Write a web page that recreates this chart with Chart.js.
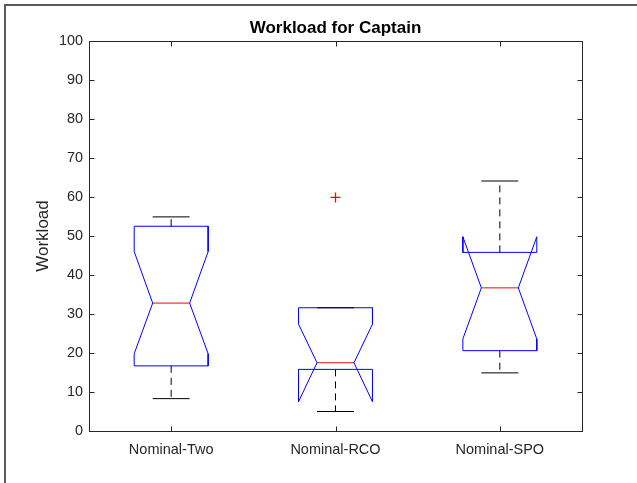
<!DOCTYPE html>
<html lang="en">
<head>
<meta charset="utf-8">
<script src="https://cdn.jsdelivr.net/npm/chart.js"></script>
<style>
    body { margin: 0; background: #fff; overflow: hidden; }
    #chart { position: absolute; left: 0; top: 0; }
</style>
</head>
<body>
<canvas id="chart" width="637" height="483"></canvas>

<script>
    // Box statistics
    const categories = ['Nominal-Two', 'Nominal-RCO', 'Nominal-SPO'];
    const whiskerLow = [8.3, 5.0, 14.9];
    const q1 = [16.7, 15.8, 20.6];
    const notchLow = [19.8, 7.5, 23.6];
    const median = [32.8, 17.5, 36.7];
    const notchHigh = [46.0, 27.4, 49.8];
    const q3 = [52.5, 31.6, 45.8];
    const whiskerHigh = [54.9, 31.6, 64.1];
    const outliers = [[], [59.9], []];
    const yTicks = [0, 10, 20, 30, 40, 50, 60, 70, 80, 90, 100];

    const boxHalf = 0.225;
    const notchHalf = boxHalf / 2;
    const fontFamily = "'Liberation Sans', Arial, Helvetica, sans-serif";
    const axisColor = '#262626';

    const datasets = [];
    categories.forEach(function (name, i) {
        const c = i + 1;
        // whiskers (dashed)
        datasets.push({ data: [{x: c, y: q3[i]}, {x: c, y: whiskerHigh[i]}], borderColor: '#000', borderDash: [7, 5] });
        datasets.push({ data: [{x: c, y: q1[i]}, {x: c, y: whiskerLow[i]}], borderColor: '#000', borderDash: [7, 5] });
        // caps
        datasets.push({ data: [{x: c - notchHalf, y: whiskerHigh[i]}, {x: c + notchHalf, y: whiskerHigh[i]}], borderColor: '#000' });
        datasets.push({ data: [{x: c - notchHalf, y: whiskerLow[i]}, {x: c + notchHalf, y: whiskerLow[i]}], borderColor: '#000' });
        // notched box outline
        datasets.push({
            data: [
                {x: c - boxHalf, y: q1[i]},
                {x: c - boxHalf, y: notchLow[i]},
                {x: c - notchHalf, y: median[i]},
                {x: c - boxHalf, y: notchHigh[i]},
                {x: c - boxHalf, y: q3[i]},
                {x: c + boxHalf, y: q3[i]},
                {x: c + boxHalf, y: notchHigh[i]},
                {x: c + notchHalf, y: median[i]},
                {x: c + boxHalf, y: notchLow[i]},
                {x: c + boxHalf, y: q1[i]},
                {x: c - boxHalf, y: q1[i]}
            ],
            borderColor: '#0000ff'
        });
        // median
        datasets.push({ data: [{x: c - notchHalf, y: median[i]}, {x: c + notchHalf, y: median[i]}], borderColor: '#ff0000' });
        // outliers
        if (outliers[i].length) {
            datasets.push({
                type: 'line',
                data: outliers[i].map(function (v) { return {x: c, y: v}; }),
                showLine: false,
                pointStyle: 'cross',
                pointRadius: 5,
                borderColor: 'rgb(255,0,0)',
                backgroundColor: 'rgb(255,0,0)',
                pointBorderColor: 'rgb(255,0,0)',
                pointBackgroundColor: 'rgb(255,0,0)',
                pointBorderWidth: 1.3
            });
        }
    });
    datasets.forEach(function (d) {
        if (d.showLine === undefined) { d.showLine = true; d.pointRadius = 0; }
        d.borderWidth = 1;
        d.fill = false;
        d.tension = 0;
    });

    // figure edge + axes box with inward ticks
    const boxFrame = {
        id: 'boxFrame',
        beforeDraw: function (chart) {
            const ctx = chart.ctx;
            ctx.save();
            ctx.strokeStyle = '#5a5a5a';
            ctx.lineWidth = 2;
            ctx.beginPath();
            ctx.moveTo(5, chart.height);
            ctx.lineTo(5, 5);
            ctx.lineTo(chart.width, 5);
            ctx.stroke();
            ctx.restore();
        },
        afterDatasetsDraw: function (chart) {
            const ctx = chart.ctx, a = chart.chartArea;
            const xs = chart.scales.x, ys = chart.scales.y;
            const L = Math.round(a.left) + 0.5, R = Math.round(a.right) + 0.5;
            const T = Math.round(a.top) + 0.5, B = Math.round(a.bottom) + 0.5;
            ctx.save();
            ctx.strokeStyle = axisColor;
            ctx.lineWidth = 1;
            ctx.strokeRect(L, T, R - L, B - T);
            ctx.beginPath();
            yTicks.forEach(function (v) {
                const y = Math.round(ys.getPixelForValue(v)) + 0.5;
                ctx.moveTo(L, y); ctx.lineTo(L + 5, y);
                ctx.moveTo(R, y); ctx.lineTo(R - 5, y);
            });
            categories.forEach(function (n, i) {
                const x = Math.round(xs.getPixelForValue(i + 1)) + 0.5;
                ctx.moveTo(x, B); ctx.lineTo(x, B - 5);
                ctx.moveTo(x, T); ctx.lineTo(x, T + 5);
            });
            ctx.stroke();
            ctx.restore();
        }
    };

    new Chart(document.getElementById('chart').getContext('2d'), {
        type: 'scatter',
        data: { datasets: datasets },
        plugins: [boxFrame],
        options: {
            responsive: false,
            animation: false,
            devicePixelRatio: 1,
            layout: { padding: { left: 0, right: 55, top: 0, bottom: 0 } },
            plugins: {
                legend: { display: false },
                tooltip: { enabled: false },
                title: {
                    display: true,
                    fullSize: false,
                    text: 'Workload for Captain',
                    color: '#000',
                    font: { family: fontFamily, size: 17, weight: 'bold', lineHeight: 1.2 },
                    padding: { top: 18, bottom: 2.6 }
                }
            },
            scales: {
                x: {
                    type: 'linear',
                    min: 0.5,
                    max: 3.5,
                    grid: { display: false, drawTicks: false },
                    border: { display: false },
                    afterBuildTicks: function (s) { s.ticks = categories.map(function (n, i) { return {value: i + 1}; }); },
                    afterFit: function (s) { s.height = 52; },
                    ticks: {
                        color: axisColor,
                        padding: 10,
                        maxRotation: 0,
                        font: { family: fontFamily, size: 14.5 },
                        callback: function (v) { return categories[v - 1]; }
                    }
                },
                y: {
                    min: 0,
                    max: 100,
                    grid: { display: false, drawTicks: false },
                    border: { display: false },
                    afterBuildTicks: function (s) { s.ticks = yTicks.map(function (v) { return {value: v}; }); },
                    afterFit: function (s) { s.width = 89; },
                    ticks: {
                        color: axisColor,
                        padding: 6,
                        font: { family: fontFamily, size: 14.4 }
                    },
                    title: {
                        display: true,
                        text: 'Workload',
                        color: axisColor,
                        font: { family: fontFamily, size: 17, lineHeight: 1.2 },
                        padding: { top: 33.6, bottom: 0 }
                    }
                }
            }
        }
    });
</script>
</body>
</html>
